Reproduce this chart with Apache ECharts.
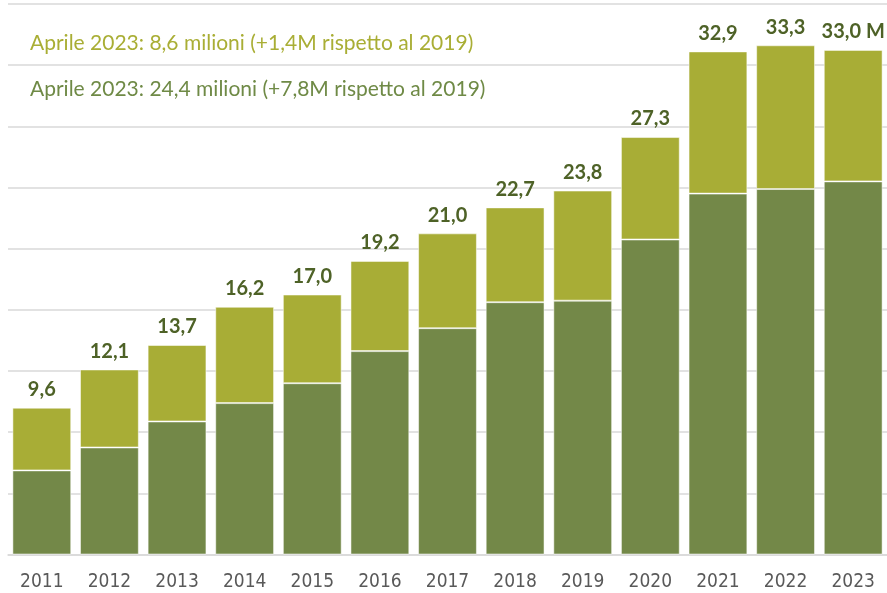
<!DOCTYPE html>
<html>
<head>
<meta charset="utf-8">
<script src="https://cdn.jsdelivr.net/npm/echarts@6/dist/echarts.min.js"></script>
<style>html,body{margin:0;padding:0;background:#fff;}#c{width:887px;height:593px;}</style>
</head>
<body>
<div id="c"></div>
<script>
const years = ['2011','2012','2013','2014','2015','2016','2017','2018','2019','2020','2021','2022','2023'];
const darkValues = [5.5, 7.0, 8.7, 9.9, 11.2, 13.3, 14.8, 16.5, 16.6, 20.6, 23.6, 23.9, 24.4];
const lightValues = [4.1, 5.1, 5.0, 6.3, 5.8, 5.9, 6.2, 6.2, 7.2, 6.7, 9.3, 9.4, 8.6];
const lightText = 'Aprile 2023: 8,6 milioni (+1,4M rispetto al 2019)';
const darkText = 'Aprile 2023: 24,4 milioni (+7,8M rispetto al 2019)';

const chart = echarts.init(document.getElementById('c'));
chart.setOption({
  animation: false,
  backgroundColor: '#fff',
  title: [
    { text: lightText, left: 25, top: 28, textStyle: { fontFamily: 'Lato', fontWeight: 'normal', fontSize: 21, color: '#a9ae35' } },
    { text: darkText, left: 25, top: 74, textStyle: { fontFamily: 'Lato', fontWeight: 'normal', fontSize: 21, color: '#6f8a46' } }
  ],
  grid: { left: 8, top: 4, width: 881, height: 550.5 },
  xAxis: {
    type: 'category', data: years,
    axisTick: { show: false },
    axisLine: { lineStyle: { color: '#d9d9d9', width: 1.5 } },
    axisLabel: { color: '#595959', fontSize: 19, fontFamily: "'Liberation Sans Narrow', 'DejaVu Sans Condensed', sans-serif", margin: 18 }
  },
  yAxis: {
    type: 'value', min: 0, max: 36, interval: 4,
    axisLabel: { show: false },
    splitLine: { lineStyle: { color: '#d9d9d9', width: 1.5 } }
  },
  series: [
    { type: 'bar', stack: 't', data: darkValues, barCategoryGap: '13%',
      itemStyle: { color: '#738848', borderColor: 'rgba(255,255,255,0.5)', borderWidth: 1 } },
    { type: 'bar', stack: 't', data: lightValues,
      itemStyle: { color: '#a8ad36', borderColor: 'rgba(255,255,255,0.5)', borderWidth: 1 },
      label: { show: true, position: 'top', distance: 8, color: '#4e6227', fontWeight: 'bold', fontSize: 20, fontFamily: 'Lato',
        formatter: p => { const t = (darkValues[p.dataIndex] + lightValues[p.dataIndex]).toFixed(1).replace('.', ','); return p.dataIndex === years.length - 1 ? t + ' M' : t; } } }
  ]
});
</script>
</body>
</html>
